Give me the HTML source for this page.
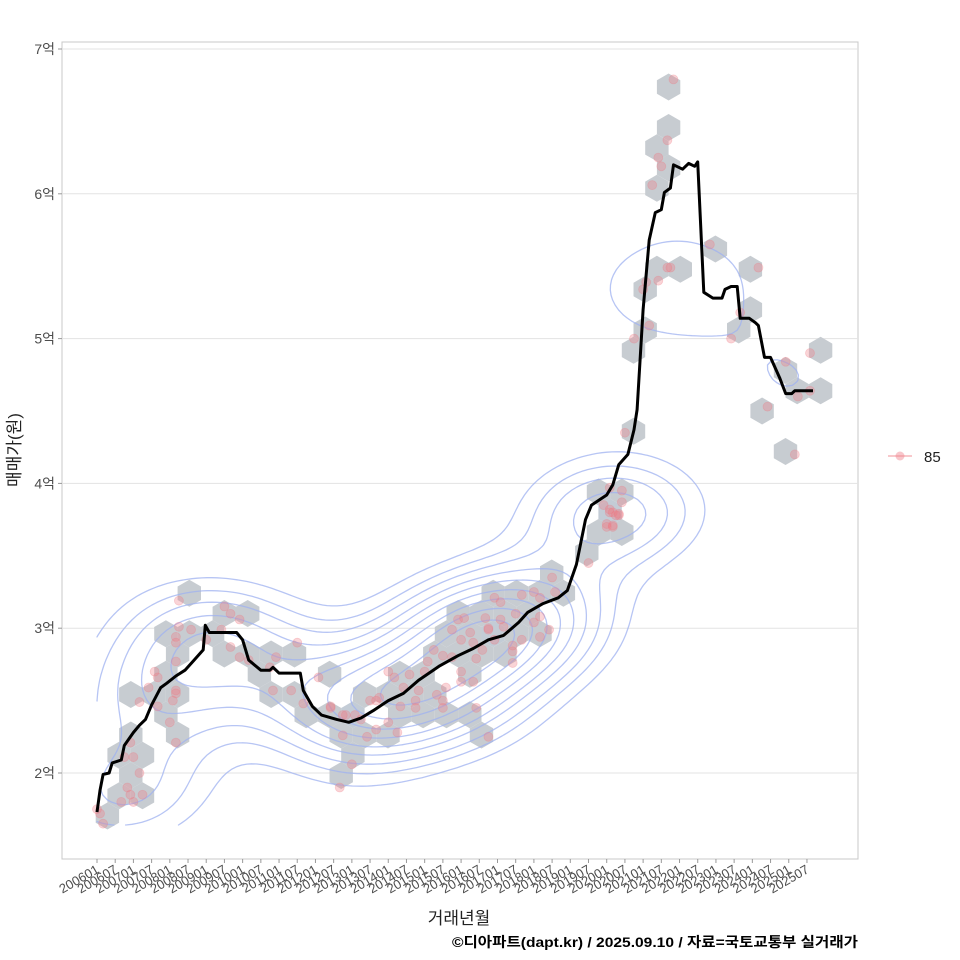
<!DOCTYPE html>
<html><head><meta charset="utf-8">
<style>
html,body{margin:0;padding:0;background:#fff;}
svg{display:block;font-family:"Liberation Sans","Noto Sans CJK KR",sans-serif;}
</style></head>
<body>
<svg id="chart" width="960" height="960" viewBox="0 0 960 960">
<rect x="0" y="0" width="960" height="960" fill="#fff"/>
<rect x="62" y="42" width="796" height="817" fill="#fff" stroke="#c8c8c8" stroke-width="1"/>
<g id="grid"></g>
<g id="hexes"></g>
<g id="contours"></g>
<g id="points"></g>
<g id="line"></g>
<g id="yaxis"></g>
<g id="xaxis"></g>
<text x="20" y="450" transform="rotate(-90 20 450)" text-anchor="middle" font-size="17" fill="#222">매매가(원)</text>
<text x="459" y="924" text-anchor="middle" font-size="17" fill="#222">거래년월</text>
<text x="858" y="947" text-anchor="end" font-size="14" font-weight="bold" fill="#000" textLength="406" lengthAdjust="spacingAndGlyphs">©디아파트(dapt.kr) / 2025.09.10 / 자료=국토교통부 실거래가</text>
<g>
<line x1="888" y1="456" x2="912" y2="456" stroke="#f4a6ac" stroke-width="1.2"/>
<circle cx="900" cy="456" r="4.5" fill="rgba(240,128,140,0.45)"/>
<text x="924" y="462" font-size="15" fill="#222">85</text>
</g>
</svg>
<script>
// ---- data (month index from 2006-01, price in 억) ----
const tickLabels = [];
for (let y = 2006; y <= 2025; y++) { tickLabels.push(y + "01"); tickLabels.push(y + "07"); }
const yTicks = [2, 3, 4, 5, 6, 7];
const yTickLabels = ["2억", "3억", "4억", "5억", "6억", "7억"];

const pointMonths = [27,42,44,27,26,26,26,19,20,17,26,26,25,14,20,24,26,36,41,44,47,59,66,57,58,73,68,77,82,81,11,12,14,10,11,8,15,12,1,2,84,80,9,77,81,89,92,92,96,98,103,101,100,96,99,105,105,108,112,114,114,114,117,115,119,117,121,124,120,120,124,125,129,125,129,129,128,131,133,134,138,140,144,150,151,146,144,146,149,146,140,137,137,137,127,131,190,188,185,186,183,202,218,188,189,185,181,180,182,177,212,209,227,235,235,231,221,230,174,169,173,173,169,172,168,170,162,167,170,85,87,90,93,106,109,111,120,123,133,31,47,50,64,0,170,171,169,172,168];
const pointPrices = [3.19,3.15,3.10,3.01,2.94,2.90,2.77,2.70,2.66,2.59,2.57,2.55,2.50,2.49,2.46,2.35,2.21,2.92,2.99,2.87,2.80,2.80,2.90,2.73,2.57,2.66,2.48,2.45,2.40,2.26,2.21,2.11,2.00,1.90,1.85,1.80,1.85,1.80,1.72,1.65,2.06,1.90,2.11,2.46,2.40,2.25,2.30,2.50,2.70,2.66,2.68,2.59,2.46,2.35,2.28,2.50,2.45,2.70,2.54,2.50,2.45,2.81,2.80,2.59,3.06,2.99,3.07,2.90,2.70,2.63,2.63,2.45,2.25,2.79,2.99,3.00,3.07,3.21,3.18,3.01,3.10,3.23,3.25,3.35,3.25,3.21,3.04,3.08,2.99,2.94,2.92,2.88,2.84,2.76,2.85,2.92,6.79,6.37,6.25,6.19,6.06,5.65,5.49,5.49,5.49,5.40,5.39,5.34,5.09,5.00,5.18,5.00,4.84,4.90,4.64,4.60,4.53,4.20,4.35,3.97,3.95,3.87,3.80,3.78,3.70,3.70,3.45,3.85,3.71,2.40,2.37,2.50,2.52,2.57,2.77,2.85,2.92,2.97,3.06,2.99,3.06,2.78,2.57,1.75,3.80,3.78,3.82,3.79,3.72];

const lineMonths = [0,1,2,4,5,8,9,12,14,16,18,21,23,26,29,32,35,35.7,37,46,48,50,54,57,58,60,67,68,71,74,79,83,87,91,96,101,106,113,119,124,129,134,139,142,147,152,155,158,161,163,168,170,172,175,177,178,180,182,184,186,187,189,190,193,195,197,198,200,203,206,207,209,211,212,215,217,218,220,222,225,227,229,230,236];
const lineValues = [1.73,1.88,1.99,2.00,2.07,2.09,2.19,2.28,2.33,2.37,2.47,2.59,2.62,2.67,2.71,2.78,2.85,3.02,2.97,2.97,2.92,2.78,2.71,2.71,2.73,2.69,2.69,2.57,2.46,2.40,2.37,2.35,2.38,2.43,2.50,2.55,2.64,2.74,2.81,2.86,2.92,2.95,3.04,3.11,3.17,3.21,3.26,3.44,3.75,3.85,3.92,3.99,4.13,4.20,4.37,4.51,5.20,5.68,5.87,5.89,6.01,6.04,6.20,6.17,6.21,6.19,6.22,5.32,5.28,5.28,5.34,5.36,5.36,5.14,5.14,5.11,5.09,4.87,4.87,4.73,4.62,4.62,4.64,4.64];

// ---- scales ----
const NS = "http://www.w3.org/2000/svg";
const X0 = 97, XPM = 3.034;
const xs = m => X0 + m * XPM;
const ys = v => 773 - (v - 2) * 144.8;
function el(tag, attrs, parent) {
  const e = document.createElementNS(NS, tag);
  for (const k in attrs) e.setAttribute(k, attrs[k]);
  parent.appendChild(e);
  return e;
}

// grid + y axis
const grid = document.getElementById('grid');
const yaxis = document.getElementById('yaxis');
yTicks.forEach((v, i) => {
  const g = el('line', {x1: 62, x2: 858, y1: ys(v), y2: ys(v), stroke: '#e3e3e3', 'stroke-width': 1}, grid);
  
  
  const t = el('line', {x1: 58, x2: 62, y1: ys(v), y2: ys(v), stroke: '#999', 'stroke-width': 1}, yaxis);
  
  
  const tx = el('text', {x: 55, y: ys(v) + 5, 'text-anchor': 'end', 'font-size': 14, fill: '#4d4d4d'}, yaxis);
  tx.textContent = yTickLabels[i];
  
  
});

// x axis
const xaxis = document.getElementById('xaxis');
tickLabels.forEach((lab, i) => {
  const x = xs(i * 6);
  const t = el('line', {x1: x, x2: x, y1: 859, y2: 863, stroke: '#999', 'stroke-width': 1}, xaxis);
  
  
  const tx = el('text', {x: x + 3, y: 872, 'text-anchor': 'end', 'font-size': 13, fill: '#4d4d4d', transform: `rotate(-30 ${x + 3} 872)`}, xaxis);
  tx.textContent = lab;
  
  
});

// hexbin (computed from points)
const R = 13.5, HW = Math.sqrt(3) * R, RS = 1.5 * R, HX0 = 668.6, HY0 = 87;
const bins = {};
pointMonths.forEach((m, i) => {
  const px = xs(m), py = ys(pointPrices[i]);
  let best = null, bd = 1e9;
  const r0 = Math.round((py - HY0) / RS);
  for (let r = r0 - 1; r <= r0 + 1; r++) {
    const off = (((r % 2) + 2) % 2) ? HW / 2 : 0;
    const c0 = Math.round((px - HX0 - off) / HW);
    for (let c = c0 - 1; c <= c0 + 1; c++) {
      const cx = HX0 + off + c * HW, cy = HY0 + r * RS;
      const d = (px - cx) ** 2 + (py - cy) ** 2;
      if (d < bd) { bd = d; best = [cx, cy]; }
    }
  }
  const k = best[0].toFixed(1) + ',' + best[1].toFixed(1);
  bins[k] = (bins[k] || 0) + 1;
});
const hexG = document.getElementById('hexes');
Object.keys(bins).forEach(k => {
  const [cx, cy] = k.split(',').map(Number);
  let pts = [];
  for (let a = 0; a < 6; a++) {
    const ang = Math.PI / 180 * (60 * a - 90);
    pts.push((cx + R * Math.cos(ang)).toFixed(1) + ',' + (cy + R * Math.sin(ang)).toFixed(1));
  }
  const n = bins[k];
  const fill = n >= 4 ? '#c3ccd6' : '#c7ccd1';
  const h = el('polygon', {points: pts.join(' '), fill: fill}, hexG);
  
  
});

// density contours (KDE + marching squares)
(function () {
  const gx0 = 97, gx1 = 812, gy0 = 80, gy1 = 823, st = 5;
  const nx = Math.ceil((gx1 - gx0) / st) + 1, ny = Math.ceil((gy1 - gy0) / st) + 1;
  const sx = 62, sy = 36;
  const P = pointMonths.map((m, i) => [xs(m), ys(pointPrices[i])]);
  const D = [];
  let mx = 0;
  for (let j = 0; j < ny; j++) {
    D.push([]);
    for (let i = 0; i < nx; i++) {
      const x = gx0 + i * st, y = gy0 + j * st;
      let s = 0;
      for (const p of P) s += Math.exp(-((x - p[0]) ** 2) / (2 * sx * sx) - ((y - p[1]) ** 2) / (2 * sy * sy));
      D[j].push(s);
      if (s > mx) mx = s;
    }
  }
  const levels = [0.16, 0.24, 0.32, 0.41, 0.5, 0.6, 0.7, 0.8, 0.9].map(f => f * mx);
  let d = '';
  const interp = (a, b, va, vb, L) => a + (b - a) * (L - va) / (vb - va);
  for (const L of levels) {
    for (let j = 0; j < ny - 1; j++) for (let i = 0; i < nx - 1; i++) {
      const x = gx0 + i * st, y = gy0 + j * st;
      const v0 = D[j][i], v1 = D[j][i + 1], v2 = D[j + 1][i + 1], v3 = D[j + 1][i];
      const e = [];
      if ((v0 > L) !== (v1 > L)) e.push([interp(x, x + st, v0, v1, L), y]);
      if ((v1 > L) !== (v2 > L)) e.push([x + st, interp(y, y + st, v1, v2, L)]);
      if ((v3 > L) !== (v2 > L)) e.push([interp(x, x + st, v3, v2, L), y + st]);
      if ((v0 > L) !== (v3 > L)) e.push([x, interp(y, y + st, v0, v3, L)]);
      for (let q = 0; q + 1 < e.length; q += 2)
        d += `M${e[q][0].toFixed(1)},${e[q][1].toFixed(1)}L${e[q + 1][0].toFixed(1)},${e[q + 1][1].toFixed(1)}`;
    }
  }
  const p = el('path', {d: d, fill: 'none', stroke: '#9fb1f0', 'stroke-width': 1.3, 'stroke-opacity': 0.75, 'stroke-linecap': 'round'}, document.getElementById('contours'));
  
  
})();

// points
const ptG = document.getElementById('points');
pointMonths.forEach((m, i) => {
  const c = el('circle', {cx: xs(m), cy: ys(pointPrices[i]), r: 4.5, fill: 'rgba(240,120,130,0.32)', stroke: 'rgba(240,120,130,0.3)', 'stroke-width': 0.8}, ptG);
  
  
});

// median line
let ld = '';
lineMonths.forEach((m, i) => { ld += (i ? 'L' : 'M') + xs(m).toFixed(1) + ',' + ys(lineValues[i]).toFixed(1); });
const ln = el('path', {d: ld, fill: 'none', stroke: '#000', 'stroke-width': 3, 'stroke-linejoin': 'round'}, document.getElementById('line'));


</script>
</body></html>
